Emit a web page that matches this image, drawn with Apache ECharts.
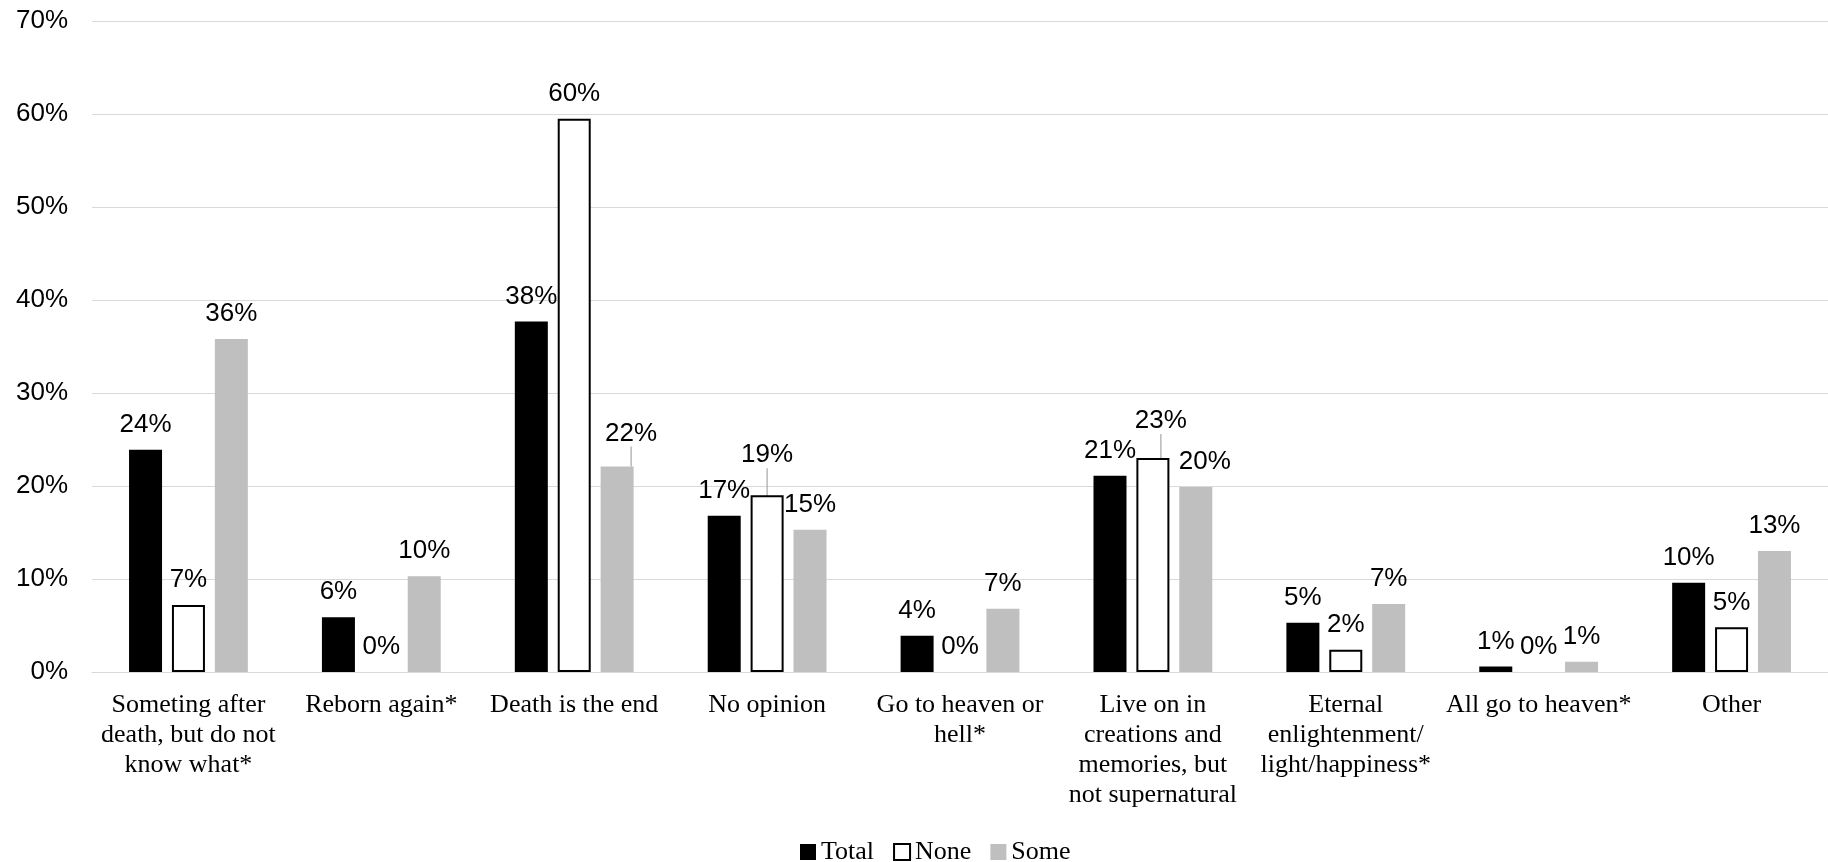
<!DOCTYPE html>
<html>
<head>
<meta charset="utf-8">
<script src="https://cdn.jsdelivr.net/npm/echarts@6/dist/echarts.min.js"></script>
<style>
  html, body { margin: 0; padding: 0; background: #fff; }
  #chart { width: 1828px; height: 862px; }
</style>
</head>
<body>
<div id="chart"></div>
<script>
(function () {
  'use strict';

  const categories = [
    'Someting after\ndeath, but do not\nknow what*',
    'Reborn again*',
    'Death is the end',
    'No opinion',
    'Go to heaven or\nhell*',
    'Live on in\ncreations and\nmemories, but\nnot supernatural',
    'Eternal\nenlightenment/\nlight/happiness*',
    'All go to heaven*',
    'Other'
  ];
  const seriesNames = ['Total', 'None', 'Some'];
  const total = [23.9, 5.9, 37.7, 16.8, 3.9, 21.1, 5.3, 0.6, 9.6];
  const none = [7.2, 0, 59.5, 19.0, 0, 23.0, 2.4, 0, 4.8];
  const some = [35.8, 10.3, 22.1, 15.3, 6.8, 19.9, 7.3, 1.1, 13.0];
  const yTicks = [0, 10, 20, 30, 40, 50, 60, 70];

  // labels that were dragged by hand in the original: [series][dataIndex] -> [dx, dy, leaderLine]
  const moved = {
    1: { 3: [0, -15, true], 5: [8, -12, true] },
    2: { 2: [14, -8, true], 5: [9, 0, false] }
  };

  const sans = '"Liberation Sans", Arial, sans-serif';
  const serif = '"Liberation Serif", "Times New Roman", serif';

  function buildData(values, si) {
    return values.map(function (v, i) {
      const item = { value: v };
      const m = moved[si] && moved[si][i];
      if (m && m[2]) item.labelLine = { show: true };
      if (v === 0 && si === 1) item.itemStyle = { borderWidth: 0 };
      return item;
    });
  }

  const styles = [
    { color: '#000000' },
    { color: '#ffffff', borderColor: '#000000', borderWidth: 2 },
    { color: '#bfbfbf' }
  ];

  const chart = echarts.init(document.getElementById('chart'), null, { renderer: 'canvas' });
  chart.setOption({
    animation: false,
    grid: { left: 92, width: 1740, top: 21, bottom: 190, containLabel: false },
    legend: {
      data: seriesNames.map(function (n) { return { name: n, icon: 'rect' }; }),
      left: 795,
      top: 834,
      itemWidth: 16,
      itemHeight: 16,
      itemGap: 19,
      itemTextGap: 2,
      textStyle: { fontFamily: serif, fontSize: 26, color: '#000' }
    },
    xAxis: {
      type: 'category',
      data: categories,
      axisLine: { lineStyle: { color: '#d9d9d9', width: 1 } },
      axisTick: { show: false },
      axisLabel: {
        interval: 0,
        margin: 18,
        fontFamily: serif,
        fontSize: 26,
        lineHeight: 30,
        color: '#000'
      }
    },
    yAxis: {
      type: 'value',
      min: yTicks[0],
      max: yTicks[yTicks.length - 1],
      interval: 10,
      axisLine: { show: false },
      axisTick: { show: false },
      splitLine: { lineStyle: { color: '#d9d9d9', width: 1 } },
      axisLabel: {
        margin: 24,
        fontFamily: sans,
        fontSize: 26,
        lineHeight: 28,
        color: '#000',
        formatter: '{value}%'
      }
    },
    series: [total, none, some].map(function (vals, si) {
      return {
        name: seriesNames[si],
        type: 'bar',
        barWidth: 33,
        barGap: '30%',
        data: buildData(vals, si),
        itemStyle: styles[si],
        label: {
          show: true,
          position: 'top',
          distance: 12,
          fontFamily: sans,
          fontSize: 26,
          color: '#000',
          formatter: function (p) { return Math.round(p.value) + '%'; }
        },
        labelLine: { show: false, lineStyle: { color: '#a6a6a6', width: 1.2 } },
        labelLayout: function (p) {
          const m = moved[si] && moved[si][p.dataIndex];
          return m ? { dx: m[0], dy: m[1] } : {};
        }
      };
    })
  });
})();
</script>
</body>
</html>
